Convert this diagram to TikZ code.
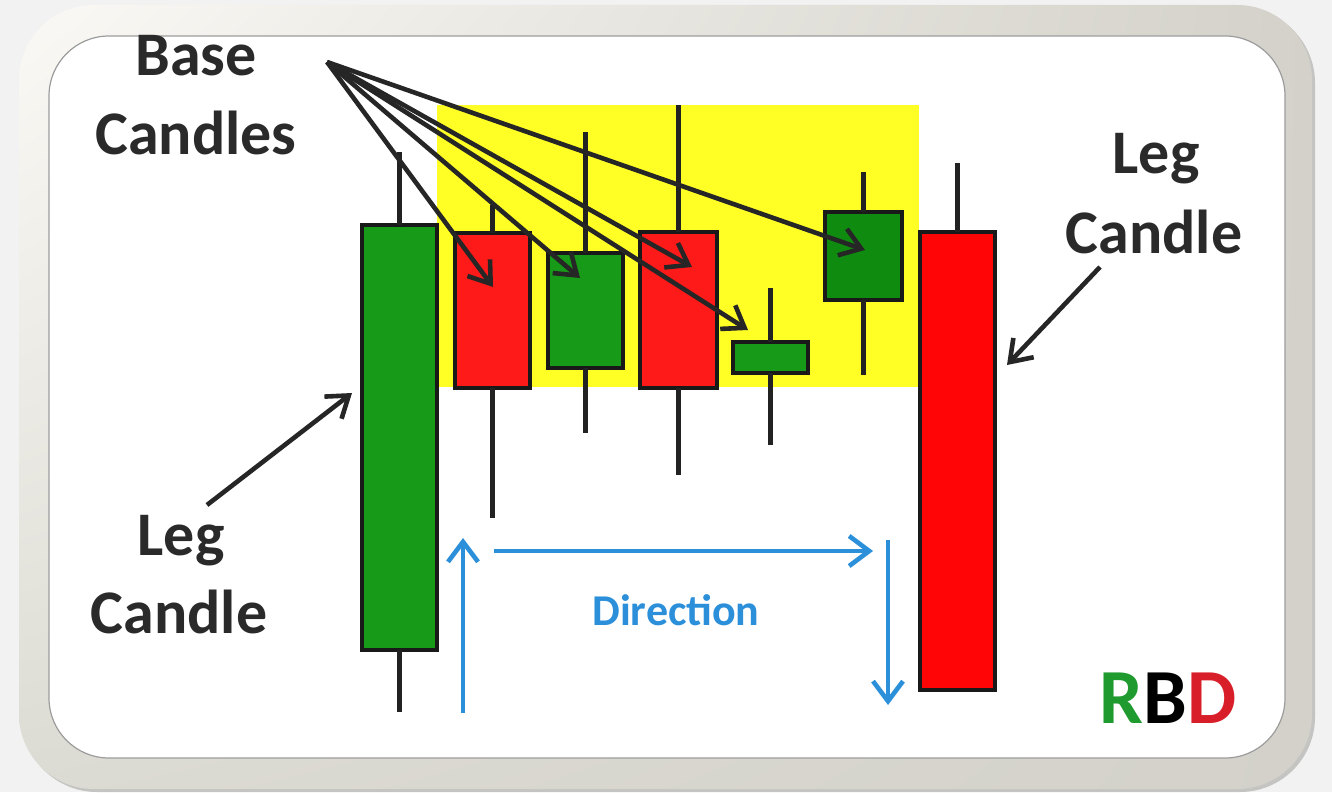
\documentclass[tikz,border=0pt]{standalone}
\usepackage{fontspec}
\setmainfont{Carlito}
\usetikzlibrary{arrows.meta,shadings}
\definecolor{bggray}{HTML}{F2F2F2}
\definecolor{frameA}{HTML}{FAF9F5}
\definecolor{frameB}{HTML}{D3D1C9}
\definecolor{frameC}{HTML}{DCDBD3}
\definecolor{shadowc}{HTML}{C4C4C2}
\definecolor{inneredge}{HTML}{9C9C9C}
\definecolor{hiyel}{HTML}{FFFF26}
\definecolor{cgreen}{HTML}{179A17}
\definecolor{cgreenD}{HTML}{0F8C0F}
\definecolor{cred}{HTML}{FF1A1A}
\definecolor{credB}{HTML}{FF0505}
\definecolor{wickc}{HTML}{222222}
\definecolor{labelc}{HTML}{2A2A2A}
\definecolor{dirblue}{HTML}{2B8FDA}
\definecolor{rgreen}{HTML}{1E9A2E}
\definecolor{dred}{HTML}{D81E28}
\tikzset{
  body/.style={draw=black!90, line width=4.6pt, inner sep=0pt, outer sep=0pt},
  wick/.style={draw=wickc, line width=4.6pt},
  ptr/.style={draw=black!85, line width=4.6pt, -{Straight Barb[length=20pt,width=28pt]}},
  blueptr/.style={draw=dirblue, line width=4.6pt, -{Straight Barb[length=20pt,width=30pt]}},
  lbl/.style={font=\fontsize{62}{80}\selectfont\bfseries, text=labelc, inner sep=0pt, anchor=base},
}
\begin{document}
\begin{tikzpicture}[x=1pt,y=-1pt]
\useasboundingbox (0,0) rectangle (1332,792);
\fill[bggray] (0,0) rectangle (1332,792);
% frame
\fill[shadowc, rounded corners=75pt] (22,8) rectangle (1315,792);
\shade[rounded corners=75pt, upper left=frameA, upper right=frameB, lower left=frameC, lower right=frameB] (19,5) rectangle (1312,789);
\filldraw[fill=white, draw=inneredge, line width=1.2pt, rounded corners=60pt] (49,36) rectangle (1285,758);
% base zone
\fill[hiyel] (437,105) rectangle (919,387);
% candle bodies (named nodes)
\node[body, fill=cgreen, minimum width=75pt, minimum height=425pt] (L1) at (399.5,437.5) {};
\node[body, fill=cred, minimum width=75pt, minimum height=155pt] (C1) at (492.5,310.5) {};
\node[body, fill=cgreen, minimum width=75pt, minimum height=115pt] (C2) at (585.5,310.5) {};
\node[body, fill=cred, minimum width=77pt, minimum height=156pt] (C3) at (678.5,310) {};
\node[body, fill=cgreen, minimum width=75pt, minimum height=31pt] (C4) at (770.5,357.5) {};
\node[body, fill=cgreenD, minimum width=77pt, minimum height=88pt] (C5) at (863.5,256) {};
\node[body, fill=credB, minimum width=75pt, minimum height=458pt] (L2) at (957.5,461) {};
% wicks
\draw[wick] (L1.north) -- (L1.north |- 0,152);
\draw[wick] (L1.south) -- (L1.south |- 0,712);
\draw[wick] (C1.north) -- (C1.north |- 0,205);
\draw[wick] (C1.south) -- (C1.south |- 0,518);
\draw[wick] (C2.north) -- (C2.north |- 0,132);
\draw[wick] (C2.south) -- (C2.south |- 0,433);
\draw[wick] (C3.north) -- (C3.north |- 0,105);
\draw[wick] (C3.south) -- (C3.south |- 0,475);
\draw[wick] (C4.north) -- (C4.north |- 0,288);
\draw[wick] (C4.south) -- (C4.south |- 0,445);
\draw[wick] (C5.north) -- (C5.north |- 0,172);
\draw[wick] (C5.south) -- (C5.south |- 0,375);
\draw[wick] (L2.north) -- (L2.north |- 0,163);
% labels
\node[lbl] (base1) at (196,75) {Base};
\node[lbl] (base2) at (196,154) {Candles};
\node[lbl] (legL1) at (181,555) {Leg};
\node[lbl] (legL2) at (179,633) {Candle};
\node[lbl] (legR1) at (1156,173) {Leg};
\node[lbl] (legR2) at (1154,253) {Candle};
\node[font=\fontsize{44}{50}\selectfont\bfseries, text=dirblue, inner sep=0pt, anchor=base] (dir) at (676,625) {Direction};
\node[font=\fontsize{78}{90}\selectfont\bfseries, inner sep=0pt, anchor=base] (rbd) at (1168,723) {\textcolor{rgreen}{R}\textcolor{black}{B}\textcolor{dred}{D}};
% pointer coordinates
\coordinate (bc) at (327,62);
\coordinate (ta) at (493,287);
\coordinate (tb) at (580,278);
\coordinate (tc) at (692,267);
\coordinate (td) at (748,330);
\coordinate (te) at (865,250);
\coordinate (lls) at (207,505);
\coordinate (llt) at (352,393);
\coordinate (lrs) at (1100,267);
\coordinate (lrt) at (1007,365);
\draw[ptr] (bc) -- (ta);
\draw[ptr] (bc) -- (tb);
\draw[ptr] (bc) -- (tc);
\draw[ptr] (bc) -- (td);
\draw[ptr] (bc) -- (te);
\draw[ptr] (lls) -- (llt);
\draw[ptr] (lrs) -- (lrt);
% direction arrows
\coordinate (u0) at (463,713);
\coordinate (u1) at (463,538);
\coordinate (r0) at (494,551);
\coordinate (r1) at (873,551);
\coordinate (d0) at (888,540);
\coordinate (d1) at (888,705);
\draw[blueptr] (u0) -- (u1);
\draw[blueptr] (r0) -- (r1);
\draw[blueptr] (d0) -- (d1);
\end{tikzpicture}
\end{document}
